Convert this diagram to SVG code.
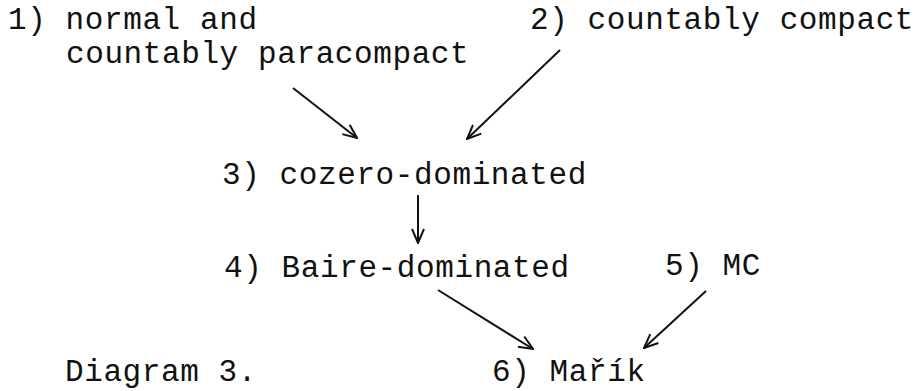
<svg xmlns="http://www.w3.org/2000/svg" width="915" height="391" viewBox="0 0 915 391">
<defs>
<style>
text{font-family:"Liberation Mono","DejaVu Sans Mono",monospace;font-size:31px;letter-spacing:0.6px;fill:#111}
.c line{stroke:#111;stroke-width:2;fill:none;marker-end:url(#ah)}
</style>
<marker id="ah" viewBox="0 0 16 14" refX="15" refY="7" markerWidth="16" markerHeight="14" markerUnits="userSpaceOnUse" orient="auto">
<path d="M1,1 L15,7 L1,13" fill="none" stroke="#111" stroke-width="2"/>
</marker>
</defs>
<rect width="915" height="391" fill="#fff"/>
<g id="n1"><text x="8" y="29">1) normal and</text><text x="66" y="63">countably paracompact</text></g>
<g id="n2"><text x="530" y="29">2) countably compact</text></g>
<g id="n3"><text x="222" y="184">3) cozero-dominated</text></g>
<g id="n4"><text x="224" y="277">4) Baire-dominated</text></g>
<g id="n5"><text x="665" y="275">5) MC</text></g>
<g id="n6"><text x="492" y="381">6) Mařík</text></g>
<g id="caption"><text x="65" y="381">Diagram 3.</text></g>
<g class="c" id="connectors">
<line x1="293" y1="88" x2="357" y2="138"/>
<line x1="560" y1="50" x2="467" y2="139"/>
<line x1="418" y1="195" x2="418" y2="243"/>
<line x1="438" y1="290" x2="533" y2="349"/>
<line x1="706" y1="291" x2="644" y2="348"/>
</g>
</svg>
